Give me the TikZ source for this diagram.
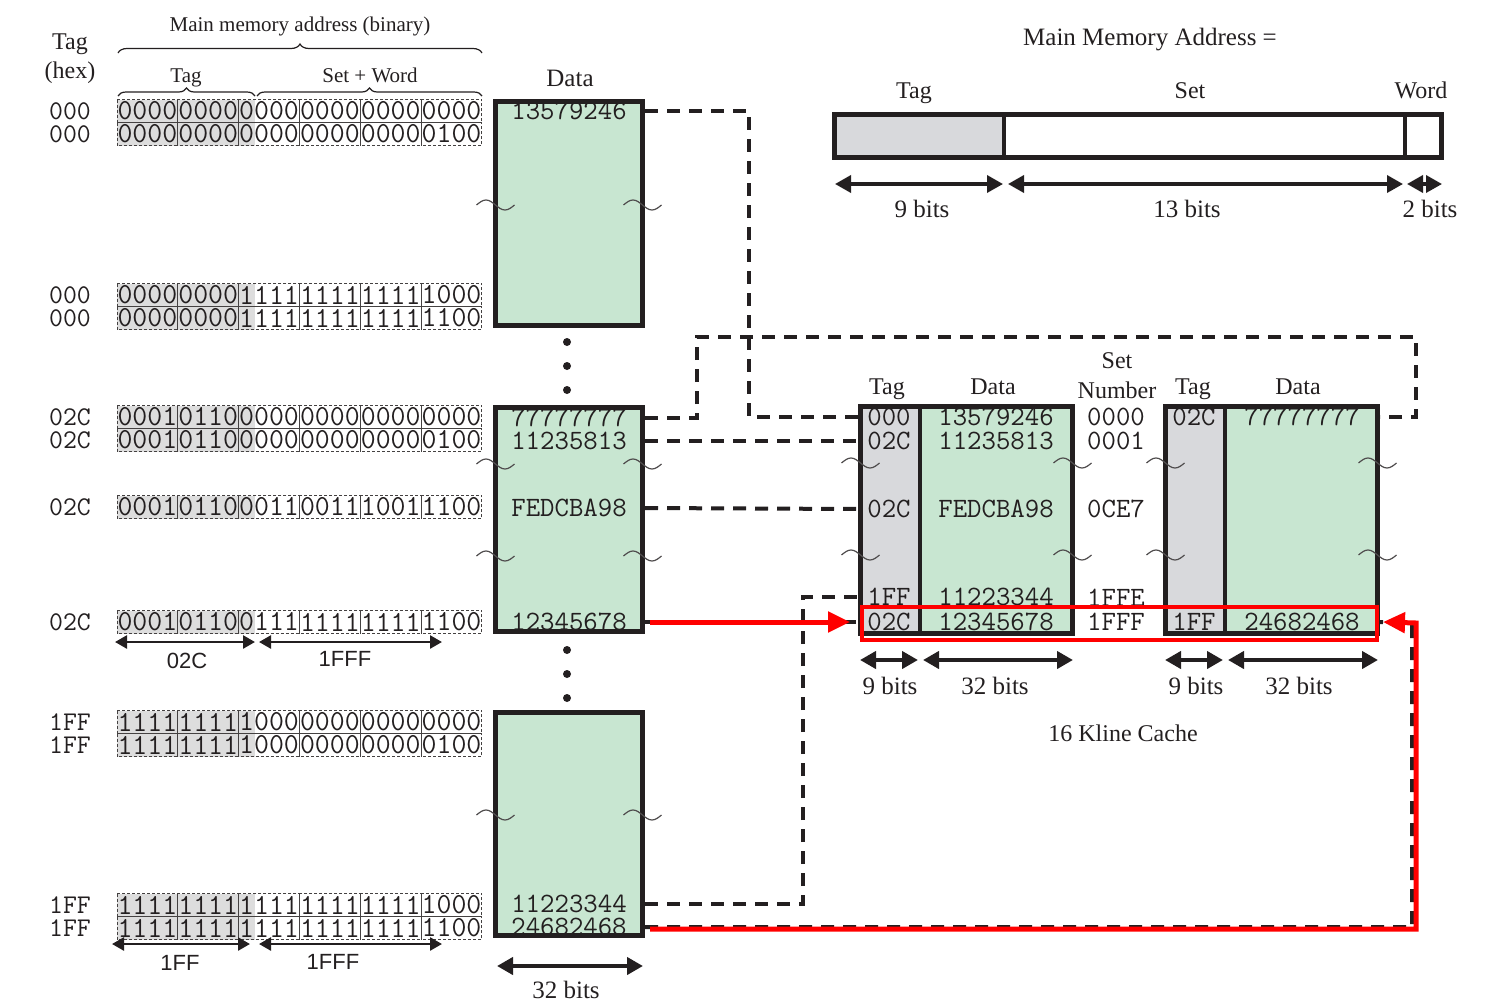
\documentclass[tikz,border=0pt]{standalone}
\usepackage{fontspec}
\setmainfont{Liberation Serif}
\newfontfamily\ArialF{Liberation Sans}
\usetikzlibrary{arrows.meta,decorations.pathreplacing}

\definecolor{memgreen}{RGB}{200,230,209}
\definecolor{taggray}{RGB}{216,217,220}
\definecolor{binshade}{RGB}{221,221,221}
\definecolor{ink}{RGB}{35,31,32}

\newcommand\BinF{\ttfamily\fontsize{29}{30}\selectfont}
\newcommand\ValF{\ttfamily\fontsize{28}{30}\selectfont}
\newcommand\HexF{\ttfamily\fontsize{27}{30}\selectfont}
\newcommand\LblF{\fontsize{24}{26}\selectfont}
\newcommand\LblG{\fontsize{25}{27}\selectfont}
\newcommand\LblS{\fontsize{21}{23}\selectfont}
\newcommand\ArF{\ArialF\fontsize{22}{24}\selectfont}

\tikzset{
  bindash/.style={draw=ink!85, line width=1pt, dash pattern=on 3pt off 2pt},
  bintxt/.style={inner sep=0pt, font=\BinF},
  hexlbl/.style={font=\HexF, inner sep=0pt},
  val/.style={font=\ValF, inner sep=0pt},
  lbl/.style={anchor=base, inner sep=0pt},
  blk/.style={draw=ink, line width=5pt, inner sep=0pt},
  dconn/.style={draw=ink, line width=4pt, dash pattern=on 13pt off 9pt},
  rconn/.style={draw=red, line width=5pt, -{Triangle[length=22pt,width=20pt]}},
  smallarr/.style={draw=ink, line width=2.5pt, {Triangle[length=12pt,width=13pt]}-{Triangle[length=12pt,width=13pt]}},
  bigarr/.style={draw=ink, line width=3.5pt, {Triangle[length=16pt,width=17pt]}-{Triangle[length=16pt,width=17pt]}},
  brk/.style={draw=ink!80, line width=1.2pt},
  brcA/.style={draw=ink, line width=1.2pt, decorate, decoration={brace, amplitude=9pt}},
  brcB/.style={draw=ink, line width=1.2pt, decorate, decoration={brace, amplitude=8pt}},
  dot/.style={circle, fill=ink, inner sep=0pt, minimum size=8pt},
}

\newcommand\binrow[3]{%
  \fill[binshade] (117,{#2-11.5}) rectangle (254.5,{#2+11.5});
  \foreach \g [count=\k from 0] in {#3}{%
    \draw[bindash] ({117+60.83*\k},{#2-11.5}) rectangle ({177.83+60.83*\k},{#2+11.5});
    \node[bintxt] (#1-\k) at ({147.4+60.83*\k},#2) {\g};}%
}
\newcommand\brkm[2]{%
  \draw[brk] ({#1-19},#2) sin ({#1-9.5},{#2-5}) cos (#1,#2) sin ({#1+9.5},{#2+5}) cos ({#1+19},#2);%
}

\begin{document}
\begin{tikzpicture}[x=1pt,y=-1pt, every node/.style={text=ink}]
\useasboundingbox (0,0) rectangle (1502,1002);

% ---------- left headers ----------
\node[lbl, font=\LblF] (hTag) at (70,49) {Tag};
\node[lbl, font=\LblF] (hHex) at (70,78) {(hex)};
\node[lbl, font=\LblS] (hMain) at (300,31) {Main memory address (binary)};
\draw[brcA] (118,53) -- (482,53);
\node[lbl, font=\LblS] (hTag2) at (186,82) {Tag};
\node[lbl, font=\LblS] (hSW) at (370,82) {Set + Word};
\draw[brcB] (118,96) -- (255,96);
\draw[brcB] (257,96) -- (482,96);

% ---------- binary rows ----------
\binrow{A1}{111}{0000,0000,0000,0000,0000,0000}
\binrow{A2}{134}{0000,0000,0000,0000,0000,0100}
\binrow{B1}{295}{0000,0000,1111,1111,1111,1000}
\binrow{B2}{318}{0000,0000,1111,1111,1111,1100}
\binrow{C1}{417}{0001,0110,0000,0000,0000,0000}
\binrow{C2}{440}{0001,0110,0000,0000,0000,0100}
\binrow{D1}{507}{0001,0110,0011,0011,1001,1100}
\binrow{E1}{622}{0001,0110,0111,1111,1111,1100}
\binrow{F1}{722}{1111,1111,1000,0000,0000,0000}
\binrow{F2}{745}{1111,1111,1000,0000,0000,0100}
\binrow{G1}{905}{1111,1111,1111,1111,1111,1000}
\binrow{G2}{928}{1111,1111,1111,1111,1111,1100}

% hex tags
\node[hexlbl] (tA1) at (70,111) {000};
\node[hexlbl] (tA2) at (70,134) {000};
\node[hexlbl] (tB1) at (70,295) {000};
\node[hexlbl] (tB2) at (70,318) {000};
\node[hexlbl] (tC1) at (70,417) {02C};
\node[hexlbl] (tC2) at (70,440) {02C};
\node[hexlbl] (tD1) at (70,507) {02C};
\node[hexlbl] (tE1) at (70,622) {02C};
\node[hexlbl] (tF1) at (70,722) {1FF};
\node[hexlbl] (tF2) at (70,745) {1FF};
\node[hexlbl] (tG1) at (70,905) {1FF};
\node[hexlbl] (tG2) at (70,928) {1FF};

% field arrows under rows
\draw[smallarr] (115,642) -- (255,642);
\draw[smallarr] (259,642) -- (442,642);
\node[lbl, font=\ArF] (l02C) at (187,668) {02C};
\node[lbl, font=\ArF] (l1FFFa) at (345,666) {1FFF};
\draw[smallarr] (112,944) -- (250,944);
\draw[smallarr] (259,944) -- (442,944);
\node[lbl, font=\ArF] (l1FF) at (180,970) {1FF};
\node[lbl, font=\ArF] (l1FFFb) at (333,969) {1FFF};

% ---------- main memory data ----------
\node[lbl, font=\LblG] (hData) at (570,86) {Data};
\node[blk, fill=memgreen, minimum width=147pt, minimum height=224pt] (mem1) at (569,213.5) {};
\node[blk, fill=memgreen, minimum width=147pt, minimum height=224pt] (mem2) at (569,519.5) {};
\node[blk, fill=memgreen, minimum width=147pt, minimum height=223pt] (mem3) at (569,824) {};

\node[val] (m13579246) at (569,111) {13579246};
\node[val] (m77777777) at (569,418) {77777777};
\node[val] (m11235813) at (569,441) {11235813};
\node[val] (mFEDCBA98) at (569,508) {FEDCBA98};
\node[val] (m12345678) at (569,622) {12345678};
\node[val] (m11223344) at (569,904) {11223344};
\node[val] (m24682468) at (569,927) {24682468};

\node[dot] (d1) at (567,342) {};
\node[dot] (d2) at (567,366) {};
\node[dot] (d3) at (567,390) {};
\node[dot] (d4) at (567,650) {};
\node[dot] (d5) at (567,674) {};
\node[dot] (d6) at (567,698) {};

\draw[bigarr, line width=4.5pt] (497,966) -- (643,966);
\node[lbl, font=\LblG] (l32m) at (566,998) {32 bits};

% ---------- address format (top right) ----------
\node[lbl, font=\LblG] (hMMA) at (1150,45) {Main Memory Address =};
\node[lbl, font=\LblF] (aTag) at (914,98) {Tag};
\node[lbl, font=\LblF] (aSet) at (1190,98) {Set};
\node[lbl, font=\LblF] (aWord) at (1421,98) {Word};
\fill[taggray] (834.5,114.5) rectangle (1004,157.5);
\node[blk, minimum width=607pt, minimum height=43pt] (addr) at (1138,136) {};
\draw[ink, line width=4.5pt] (1004,114.5) -- (1004,157.5);
\draw[ink, line width=4.5pt] (1405,114.5) -- (1405,157.5);
\draw[bigarr] (835,184) -- (1003,184);
\draw[bigarr] (1008,184) -- (1403,184);
\draw[bigarr] (1407,184) -- (1442,184);
\node[lbl, font=\LblG] (a9) at (922,217) {9 bits};
\node[lbl, font=\LblG] (a13) at (1187,217) {13 bits};
\node[lbl, font=\LblG] (a2) at (1430,217) {2 bits};

% ---------- cache ----------
\node[lbl, font=\LblF] (cSet) at (1117,368) {Set};
\node[lbl, font=\LblF] (cNum) at (1117,398) {Number};
\node[lbl, font=\LblF] (cTagL) at (887,394) {Tag};
\node[lbl, font=\LblF] (cDataL) at (993,394) {Data};
\node[lbl, font=\LblF] (cTagR) at (1193,394) {Tag};
\node[lbl, font=\LblF] (cDataR) at (1298,394) {Data};

\fill[memgreen] (860.5,406.5) rectangle (1072.5,633.5);
\fill[taggray] (860.5,406.5) rectangle (920,633.5);
\draw[ink, line width=4.5pt] (920,406.5) -- (920,633.5);
\node[blk, minimum width=212pt, minimum height=227pt] (wayL) at (966.5,520) {};

\fill[memgreen] (1165.5,406.5) rectangle (1377.5,633.5);
\fill[taggray] (1165.5,406.5) rectangle (1225,633.5);
\draw[ink, line width=4.5pt] (1225,406.5) -- (1225,633.5);
\node[blk, minimum width=212pt, minimum height=227pt] (wayR) at (1271.5,520) {};

\node[val] (c000) at (889,417) {000};
\node[val] (c02Ca) at (889,441) {02C};
\node[val] (c02Cb) at (889,509) {02C};
\node[val] (c1FF) at (889,597) {1FF};
\node[val] (c02Cc) at (889,622) {02C};
\node[val] (cd1) at (996,417) {13579246};
\node[val] (cd2) at (996,441) {11235813};
\node[val] (cd3) at (996,509) {FEDCBA98};
\node[val] (cd4) at (996,597) {11223344};
\node[val] (cd5) at (996,622) {12345678};
\node[val] (s0) at (1116,417) {0000};
\node[val] (s1) at (1116,441) {0001};
\node[val] (s2) at (1116,509) {0CE7};
\node[val] (s3) at (1116,598) {1FFE};
\node[val] (s4) at (1116,622) {1FFF};
\node[val] (r02C) at (1194,417) {02C};
\node[val] (r7) at (1302,417) {77777777};
\node[val] (r1FF) at (1194,622) {1FF};
\node[val] (r2468) at (1302,622) {24682468};

\node[draw=red, line width=4pt, minimum width=515pt, minimum height=33pt, inner sep=0pt] (hl) at (1119.5,623.5) {};

\draw[bigarr, line width=4pt] (860,660) -- (918,660);
\draw[bigarr, line width=4pt] (923,660) -- (1073,660);
\draw[bigarr, line width=4pt] (1165,660) -- (1223,660);
\draw[bigarr, line width=4pt] (1228,660) -- (1378,660);
\node[lbl, font=\LblG] (c9L) at (890,694) {9 bits};
\node[lbl, font=\LblG] (c32L) at (995,694) {32 bits};
\node[lbl, font=\LblG] (c9R) at (1196,694) {9 bits};
\node[lbl, font=\LblG] (c32R) at (1299,694) {32 bits};
\node[lbl, font=\LblF] (cName) at (1123,741) {16 Kline Cache};

% ---------- break marks ----------
\brkm{495.5}{205}\brkm{642.5}{205}
\brkm{495.5}{464}\brkm{642.5}{464}
\brkm{495.5}{556}\brkm{642.5}{556}
\brkm{495.5}{815}\brkm{642.5}{815}
\brkm{860.5}{463}\brkm{1072.5}{463}\brkm{1165.5}{463}\brkm{1377.5}{463}
\brkm{860.5}{555}\brkm{1072.5}{555}\brkm{1165.5}{555}\brkm{1377.5}{555}

% ---------- connectors ----------
\coordinate (k1) at (749,337);
\coordinate (k2) at (697,337);
\coordinate (k4) at (1416,337);
\coordinate (k5) at (803,597);
\coordinate (k6) at (1412,623);
\coordinate (k7) at (1416,623);

\draw[dconn] (mem1.east |- m13579246) -| (k1 |- c000) -- (wayL.west |- c000);
\draw[dconn] (mem2.east |- m77777777) -| (k2) -- (k4) |- (wayR.east |- r7);
\draw[dconn] (mem2.east |- m11235813) -- (wayL.west |- c02Ca);
\draw[dconn] (mem2.east |- mFEDCBA98) -- (wayL.west |- c02Cb);
\draw[dconn] (mem3.east |- m11223344) -| (k5) -- (wayL.west |- c1FF);
\draw[dconn] (mem2.east |- m12345678) -- (wayL.west |- c02Cc);
\draw[dconn] (mem3.east |- m24682468) -| (k6) -- (wayR.east |- r2468);

\draw[rconn, shorten <=5pt, shorten >=8pt] (mem2.east |- m12345678) -- (wayL.west |- c02Cc);
\draw[rconn, shorten <=5pt] ([yshift=-2pt]mem3.east |- m24682468) -| (k7) -- ([xshift=3pt]wayR.east |- r2468);
\end{tikzpicture}
\end{document}
